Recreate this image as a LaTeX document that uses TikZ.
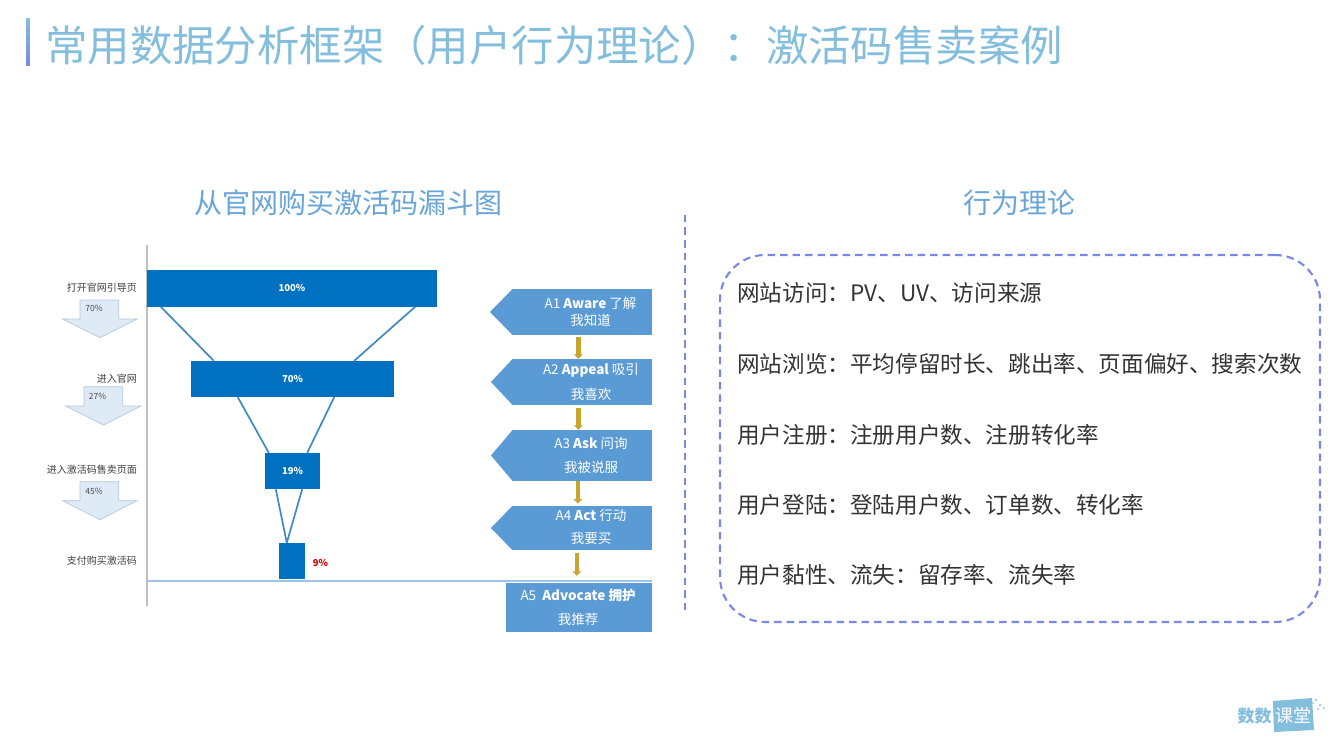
\documentclass[tikz,border=0pt]{standalone}
\usepackage{fontspec}
\setmainfont{Noto Sans CJK SC}
\usetikzlibrary{arrows.meta,calc}
\definecolor{titleblue}{HTML}{84BEDD}
\definecolor{subblue}{HTML}{6AA5D8}
\definecolor{barblue}{HTML}{0070C0}
\definecolor{linkblue}{HTML}{3F8AC4}
\definecolor{pentblue}{HTML}{5B9BD5}
\definecolor{dashblue}{HTML}{7888E4}
\definecolor{axisgrey}{HTML}{BFBFBF}
\definecolor{baseblue}{HTML}{9DC3E6}
\definecolor{arrowfill}{HTML}{DEEAF6}
\definecolor{arrowline}{HTML}{B4C7DC}
\definecolor{gold}{HTML}{C9A42E}
\definecolor{bodytext}{HTML}{333333}
\newcommand{\fs}[1]{\fontsize{#1pt}{#1pt}\selectfont}
\tikzset{
  x=1pt,y=-1pt,
  bar/.style={fill=barblue,inner sep=0pt,text=white,font=\fs{9.5}\bfseries},
  link/.style={draw=linkblue,line width=1.7pt},
  smalllabel/.style={anchor=east,inner sep=0pt,text=black!75,font=\fs{10}},
  pctlabel/.style={inner sep=0pt,text=black!70,font=\fs{8.5}},
  downarrow/.style={fill=arrowfill,draw=arrowline,line width=.7pt},
  pent/.style={fill=pentblue,inner sep=0pt},
  penttext/.style={inner sep=0pt,text=white,font=\fs{13.5}},
  goldarrow/.style={draw=gold,line width=4.5pt,-{Triangle[width=8.5pt,length=4.5pt]}},
  metric/.style={anchor=west,inner sep=0pt,text=bodytext,font=\fs{22.6}},
  subhead/.style={inner sep=0pt,text=subblue,font=\fs{28}},
  dashline/.style={draw=dashblue,line width=2.1pt,dash pattern=on 7.5pt off 5pt},
}
\begin{document}
\begin{tikzpicture}
\useasboundingbox (0,0) rectangle (1341,754);
\fill[white] (0,0) rectangle (1341,754);

% title
\shade[top color=titleblue,bottom color=dashblue] (26,19) rectangle (29.5,66);
\node[anchor=west,inner sep=0pt,text=titleblue,font=\fs{42.4}] (title) at (45,45.5) {常用数据分析框架（用户行为理论）：激活码售卖案例};

% sub heads
\node[subhead] (leftHead) at (348,203) {从官网购买激活码漏斗图};
\node[subhead] (rightHead) at (1019,203) {行为理论};

% axes
\coordinate (axTop) at (147,245);
\coordinate (axBot) at (147,606);
\coordinate (baseL) at (147,581);
\coordinate (baseR) at (652,581);
\draw[axisgrey,line width=1.2pt] (axTop) -- (axBot);
\draw[baseblue,line width=1.2pt] (baseL) -- (baseR);

% funnel bars
\node[bar,minimum width=290pt,minimum height=36.5pt] (b1) at (292,288.3) {100\%};
\node[bar,minimum width=203pt,minimum height=36pt] (b2) at (292.5,379) {70\%};
\node[bar,minimum width=55pt,minimum height=36pt] (b3) at (292.5,471) {19\%};
\node[bar,minimum width=26pt,minimum height=36pt] (b4) at (292,561) {};
\node[inner sep=0pt,text=red!85!black,font=\fs{9.5}\bfseries] (p4) at (320.5,563) {9\%};

% funnel links
\draw[link] ([xshift=14pt]b1.south west) -- ([xshift=23pt]b2.north west);
\draw[link] ([xshift=-22pt]b1.south east) -- ([xshift=-40pt]b2.north east);
\draw[link] ([xshift=47pt]b2.south west) -- ([xshift=4pt]b3.north west);
\draw[link] ([xshift=-60pt]b2.south east) -- ([xshift=-13pt]b3.north east);
\draw[link] ([xshift=11pt]b3.south west) -- ([xshift=8pt]b4.north west);
\draw[link] ([xshift=-18pt]b3.south east) -- ([xshift=8pt]b4.north west);

% left labels
\node[smalllabel] (l1) at (137,288) {打开官网引导页};
\node[smalllabel] (l2) at (137,379) {进入官网};
\node[smalllabel] (l3) at (137,470) {进入激活码售卖页面};
\node[smalllabel] (l4) at (137,561) {支付购买激活码};

% down arrows
\draw[downarrow] (80,300) -- (118.7,300) -- (118.7,319) -- (137,319) -- (100,337.7) -- (62.7,319) -- (80,319) -- cycle;
\draw[downarrow] (84,386.7) -- (122.7,386.7) -- (122.7,406) -- (141,406) -- (103.5,425) -- (65.7,406) -- (84,406) -- cycle;
\draw[downarrow] (80,481.7) -- (118.7,481.7) -- (118.7,500.7) -- (137,500.7) -- (100,519.7) -- (62.7,500.7) -- (80,500.7) -- cycle;
\node[pctlabel] (a1p) at (94,308.5) {70\%};
\node[pctlabel] (a2p) at (97.5,396) {27\%};
\node[pctlabel] (a3p) at (94,491) {45\%};

% pentagons
\node[pent,minimum width=138.7pt,minimum height=46pt] (a1) at (582.3,312) {};
\fill[pentblue] (a1.north west) -- (490,312) -- (a1.south west) -- cycle;
\node[pent,minimum width=138.7pt,minimum height=46pt] (a2) at (582.3,382) {};
\fill[pentblue] (a2.north west) -- (491,382) -- (a2.south west) -- cycle;
\node[pent,minimum width=138.7pt,minimum height=51pt] (a3) at (582.3,455.5) {};
\fill[pentblue] (a3.north west) -- (491,455.5) -- (a3.south west) -- cycle;
\node[pent,minimum width=138.7pt,minimum height=44.5pt] (a4) at (582.3,528) {};
\fill[pentblue] (a4.north west) -- (491,528) -- (a4.south west) -- cycle;
\node[pent,minimum width=146.5pt,minimum height=49pt] (a5) at (579.2,607.5) {};

\node[penttext] at (590.5,303) {A1 \textbf{Aware} 了解};
\node[penttext] at (590.5,320) {我知道};
\node[penttext] at (591,370) {A2 \textbf{Appeal} 吸引};
\node[penttext] at (591,394) {我喜欢};
\node[penttext] at (591,443) {A3 \textbf{Ask} 问询};
\node[penttext] at (591,467) {我被说服};
\node[penttext] at (591,515) {A4 \textbf{Act} 行动};
\node[penttext] at (591,538.5) {我要买};
\node[penttext] at (578,595.5) {A5 \ \textbf{Advocate 拥护}};
\node[penttext] at (578,619) {我推荐};

% gold arrows
\draw[goldarrow] ([xshift=-4pt,yshift=-2pt]a1.south) -- ([xshift=-4pt]a2.north);
\draw[goldarrow] ([xshift=-4pt,yshift=-3pt]a2.south) -- ([xshift=-4pt]a3.north);
\draw[goldarrow] ([xshift=-4.5pt]a3.south) -- ([xshift=-4.5pt,yshift=2pt]a4.north);
\coordinate (a5top) at ([xshift=-2.5pt,yshift=7pt]a5.north);
\draw[goldarrow] ([xshift=-5.5pt,yshift=-3pt]a4.south) -- ([xshift=-5.5pt,yshift=0pt]a5top -| a4.south);

% divider
\coordinate (divTop) at (685,215);
\coordinate (divBot) at (685,611);
\draw[dashline] (divTop) -- (divBot);

% right panel
\node[dashline,draw,rounded corners=45pt,minimum width=600pt,minimum height=367pt] (panel) at (1020,438.5) {};
\node[metric] (m1) at (737,293) {网站访问：PV、UV、访问来源};
\node[metric] (m2) at (737,364) {网站浏览：平均停留时长、跳出率、页面偏好、搜索次数};
\node[metric] (m3) at (737,435) {用户注册：注册用户数、注册转化率};
\node[metric] (m4) at (737,505) {用户登陆：登陆用户数、订单数、转化率};
\node[metric] (m5) at (737,575) {用户黏性、流失：留存率、流失率};

% logo
\fill[titleblue] (1273,701) -- (1312,698) -- (1314,730) -- (1274,732) -- cycle;
\node[inner sep=0pt,text=titleblue,font=\fs{17}\bfseries] (logo1) at (1254.5,716) {数数};
\node[inner sep=0pt,text=white,font=\fs{18}] (logo2) at (1293.5,715.5) {课堂};
\fill[titleblue!80] (1316,700) circle (1.3) (1320,705) circle (1.3) (1313,703) circle (1.2) (1324,708) circle (1.2) (1318,709) circle (1.2);
\end{tikzpicture}
\end{document}
